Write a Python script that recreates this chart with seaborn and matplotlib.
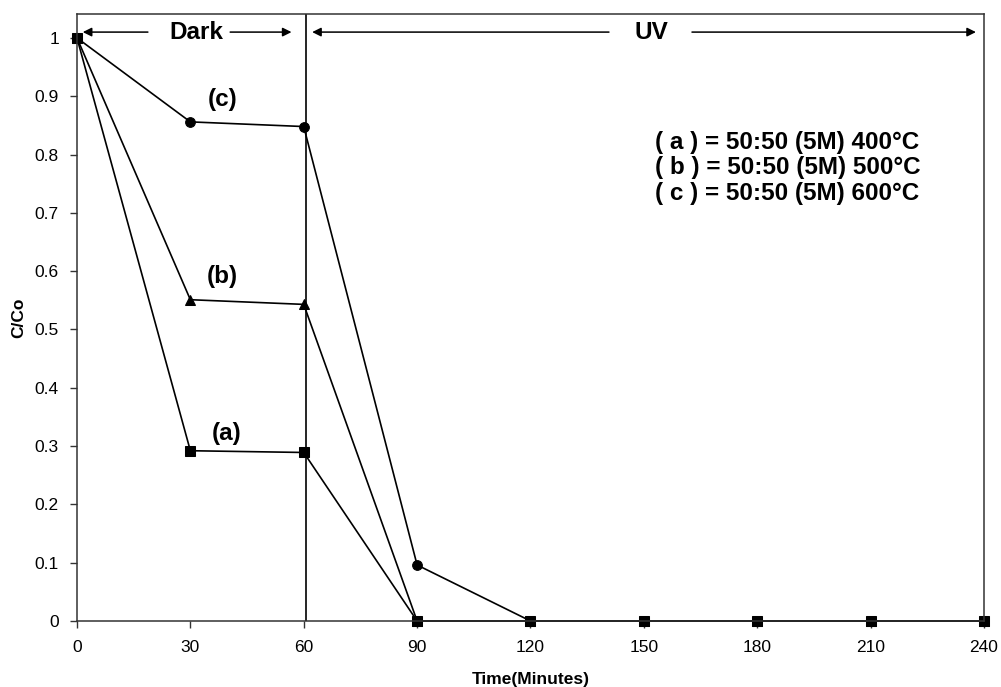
import pandas as pd
import matplotlib
matplotlib.use("Agg")
import matplotlib.pyplot as plt
import seaborn as sns

# data
time = [0, 30, 60, 90, 120, 150, 180, 210, 240]
a_400 = [1.0, 0.292, 0.289, 0, 0, 0, 0, 0, 0]
b_500 = [1.0, 0.551, 0.543, 0, 0, 0, 0, 0, 0]
c_600 = [1.0, 0.856, 0.848, 0.096, 0, 0, 0, 0, 0]

x_ticks = [0, 30, 60, 90, 120, 150, 180, 210, 240]
y_ticks = [0, 0.1, 0.2, 0.3, 0.4, 0.5, 0.6, 0.7, 0.8, 0.9, 1]
y_tick_labels = ["0", "0.1", "0.2", "0.3", "0.4", "0.5", "0.6", "0.7", "0.8", "0.9", "1"]

legend_lines = ["( a ) = 50:50 (5M) 400°C",
                "( b ) = 50:50 (5M) 500°C",
                "( c ) = 50:50 (5M) 600°C"]

sns.set_style("ticks")
plt.rcParams["font.family"] = ["Liberation Sans", "DejaVu Sans"]
plt.rcParams["text.color"] = "black"
plt.rcParams["axes.labelcolor"] = "black"
plt.rcParams["xtick.color"] = "black"
plt.rcParams["ytick.color"] = "black"

fig = plt.figure(figsize=(10.01, 6.87), dpi=100)
ax = fig.add_axes([0.0769, 0.0961, 0.9061, 0.8835])

df = pd.DataFrame({"t": time, "a": a_400, "b": b_500, "c": c_600})

# draw c first so the squares of (a) sit on top at the shared zeros
sns.lineplot(data=df, x="t", y="c", ax=ax, color="black", lw=1.2,
             marker="o", markersize=7, markeredgecolor="black", clip_on=False)
sns.lineplot(data=df, x="t", y="b", ax=ax, color="black", lw=1.2,
             marker="^", markersize=7, markeredgecolor="black", clip_on=False)
sns.lineplot(data=df, x="t", y="a", ax=ax, color="black", lw=1.2,
             marker="s", markersize=6.5, markeredgecolor="black", clip_on=False)

ax.set_xlim(0, 240)
ax.set_ylim(0, 1.041)
ax.set_xticks(x_ticks)
ax.set_yticks(y_ticks)
ax.set_yticklabels(y_tick_labels)
ax.tick_params(labelsize=12.5, length=5, width=1, color="#333333")
ax.tick_params(axis="x", pad=9)
ax.tick_params(axis="y", pad=8)

for s in ax.spines.values():
    s.set_visible(True)
    s.set_color("#333333")
    s.set_linewidth(1.1)

ax.set_xlabel("Time(Minutes)", fontsize=12.5, fontweight="bold", labelpad=12)
ax.set_ylabel("C/Co", fontsize=12.5, fontweight="bold", labelpad=6)

# dark / UV divider
ax.axvline(60.6, color="black", lw=1.2)

arrow = dict(arrowstyle="-|>", color="black", lw=1.1, mutation_scale=13)
ya = 1.01
ax.annotate("", xy=(0.8, ya), xytext=(19.5, ya), arrowprops=arrow)
ax.annotate("", xy=(57.5, ya), xytext=(39.8, ya), arrowprops=arrow)
ax.text(31.7, ya, "Dark", fontsize=17.5, fontweight="bold", ha="center", va="center")
ax.annotate("", xy=(61.5, ya), xytext=(141.5, ya), arrowprops=arrow)
ax.annotate("", xy=(238.6, ya), xytext=(162, ya), arrowprops=arrow)
ax.text(152, ya, "UV", fontsize=17.5, fontweight="bold", ha="center", va="center")

# series labels
ax.text(38.5, 0.894, "(c)", fontsize=17.5, fontweight="bold", ha="center", va="center")
ax.text(38.5, 0.590, "(b)", fontsize=17.5, fontweight="bold", ha="center", va="center")
ax.text(39.5, 0.322, "(a)", fontsize=17.5, fontweight="bold", ha="center", va="center")

for i, line in enumerate(legend_lines):
    ax.text(153, 0.820 - i * 0.043, line, fontsize=17.5, fontweight="bold",
            ha="left", va="center")

fig.savefig("out.png", dpi=100)
